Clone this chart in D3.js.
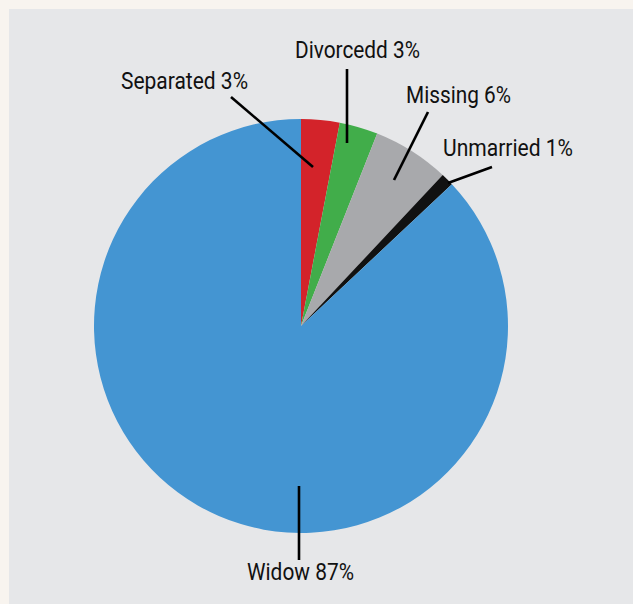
<!DOCTYPE html>
<html><head><meta charset="utf-8">
<script src="https://cdn.jsdelivr.net/npm/d3@7"></script>
<style>html,body{margin:0;padding:0;background:#f8f4ef;}svg{display:block;}</style>
</head><body>
<svg id="chart" width="633" height="604"></svg>
<script>
const categories = ["Separated", "Divorcedd", "Missing", "Unmarried", "Widow"];
const values = [3, 3, 6, 1, 87];
const labels = ["Separated 3%", "Divorcedd 3%", "Missing 6%", "Unmarried 1%", "Widow 87%"];
const colors = ["#d3232a", "#41ad4a", "#a8a9ac", "#111111", "#4495d2"];

// annotation layout (offsets from pie centre, px)
const leaderLayout = [
  {x1: 12, y1: -159, x2: -70, y2: -229, tx: -180, ty: -237, w: 127},
  {x1: 46, y1: -183, x2: 46, y2: -257, tx: -6, ty: -268, w: 125},
  {x1: 93, y1: -146, x2: 127, y2: -214, tx: 105, ty: -223, w: 105},
  {x1: 147, y1: -143, x2: 191, y2: -159, tx: 142, ty: -170, w: 130},
  {x1: -2, y1: 160, x2: -2, y2: 234, tx: -54, ty: 254, w: 107}
];

const svg = d3.select("#chart");
svg.append("rect").attr("x", 9).attr("y", 9).attr("width", 633 - 9).attr("height", 604 - 9).attr("fill", "#e6e7e9");

const cx = 301, cy = 326, R = 207;
const g = svg.append("g").attr("transform", `translate(${cx},${cy})`);

const pie = d3.pie().sort(null).value(d => d.v);
const arcs = pie(categories.map((c, i) => ({c, v: values[i], i})));
const arc = d3.arc().innerRadius(0).outerRadius(R);

g.selectAll("path.slice").data(arcs).join("path")
  .attr("class", "slice")
  .attr("d", arc)
  .attr("fill", d => colors[d.data.i]);

g.selectAll("line.leader").data(arcs).join("line")
  .attr("class", "leader")
  .attr("x1", d => leaderLayout[d.data.i].x1)
  .attr("y1", d => leaderLayout[d.data.i].y1)
  .attr("x2", d => leaderLayout[d.data.i].x2)
  .attr("y2", d => leaderLayout[d.data.i].y2)
  .attr("stroke", "#000").attr("stroke-width", 2.6);

g.selectAll("text.lbl").data(arcs).join("text")
  .attr("class", "lbl")
  .attr("x", d => leaderLayout[d.data.i].tx)
  .attr("y", d => leaderLayout[d.data.i].ty)
  .attr("textLength", d => leaderLayout[d.data.i].w)
  .attr("lengthAdjust", "spacingAndGlyphs")
  .attr("font-family", "Roboto, 'DejaVu Sans Condensed', sans-serif")
  .attr("font-size", 24)
  .attr("fill", "#111")
  .text(d => labels[d.data.i]);
</script>
</body></html>
